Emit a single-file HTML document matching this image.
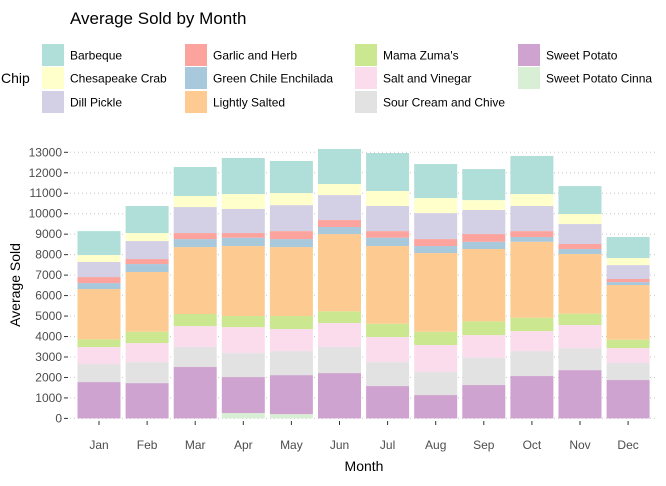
<!DOCTYPE html>
<html><head><meta charset="utf-8"><style>
body{margin:0;background:#fff;font-family:"Liberation Sans",Arial,sans-serif;}
svg text{font-family:"Liberation Sans",Arial,sans-serif;}
</style></head><body>
<svg id="chart" width="666" height="481">
<text x="70" y="24" font-size="17" fill="#000">Average Sold by Month</text>
<text x="1" y="83" font-size="14" fill="#000">Chip</text>
<g id="legend"></g>
<g id="grid"></g>
<g id="bars"></g>
<g id="axes"></g>
<text x="0" y="0" transform="translate(20,285) rotate(-90)" text-anchor="middle" font-size="14" fill="#000">Average Sold</text>
<text x="364" y="471" text-anchor="middle" font-size="14" fill="#000">Month</text>
</svg>
<script>
const months = ["Jan","Feb","Mar","Apr","May","Jun","Jul","Aug","Sep","Oct","Nov","Dec"];
const seriesNames = ["Barbeque","Chesapeake Crab","Dill Pickle","Garlic and Herb","Green Chile Enchilada","Lightly Salted","Mama Zuma's","Salt and Vinegar","Sour Cream and Chive","Sweet Potato","Sweet Potato Cinna"];
const barbeque = [1170,1320,1415,1760,1565,1710,1855,1660,1515,1860,1365,1025];
const chesapeake = [340,390,540,730,590,540,735,735,485,585,490,345];
const dillPickle = [735,880,1270,1175,1270,1220,1225,1270,1175,1225,975,680];
const garlicHerb = [295,245,295,225,390,340,320,340,375,290,245,150];
const greenChile = [290,390,390,410,390,345,410,340,355,230,245,145];
const lightlySalted = [2460,2915,3270,3420,3370,3775,3795,3845,3535,3710,2915,2670];
const mamaZuma = [375,555,590,540,635,570,650,650,670,655,555,410];
const saltVinegar = [830,930,1025,1270,1075,1175,1225,1320,1105,975,1125,730];
const sourCream = [880,1025,975,1170,1175,1270,1170,1125,1335,1220,1075,830];
const sweetPotato = [1775,1725,2510,1760,1905,2215,1580,1140,1630,2070,2360,1875];
const sweetPotatoCinna = [0,0,0,260,210,0,0,0,0,0,0,0];
const yTicks = [0,1000,2000,3000,4000,5000,6000,7000,8000,9000,10000,11000,12000,13000];

const seriesData = [barbeque,chesapeake,dillPickle,garlicHerb,greenChile,lightlySalted,mamaZuma,saltVinegar,sourCream,sweetPotato,sweetPotatoCinna];
const colors = ["#b0ded8","#ffffcc","#d3cfe4","#fba39c","#a8c8dc","#fdcb91","#cbe790","#fbdced","#e2e2e2","#cfa3cf","#d9efd5"];
const NS="http://www.w3.org/2000/svg";
const y0=418.4, pxPer=266.1/13000;
const yScale=v=>y0-v*pxPer;
const xCenter=i=>99+i*48.1;
const bw=43;
function mk(tag,attrs,parent){const e=document.createElementNS(NS,tag);for(const k in attrs)e.setAttribute(k,attrs[k]);parent.appendChild(e);return e;}
const grid=document.getElementById('grid'),axes=document.getElementById('axes'),bars=document.getElementById('bars'),legend=document.getElementById('legend');
yTicks.forEach(t=>{
  const y=yScale(t);
  const g=mk('line',{x1:70,x2:656,y1:y,y2:y,stroke:"#c8c8c8","stroke-dasharray":"1,3","stroke-width":1},grid);
  
  
  const tk=mk('line',{x1:64,x2:68,y1:y,y2:y,stroke:"#333","stroke-width":1},axes);
  
  
  const tx=mk('text',{x:62,y:y+4,"text-anchor":"end","font-size":12,fill:"#4d4d4d"},axes);
  tx.textContent=t;
  
  
});
months.forEach((m,i)=>{
  let cum=0;
  for(let s=seriesData.length-1;s>=0;s--){
    const v=seriesData[s][i];
    const r=mk('rect',{x:xCenter(i)-bw/2,y:yScale(cum+v),width:bw,height:v*pxPer,fill:colors[s]},bars);
    
    
    cum+=v;
  }
  const tk=mk('line',{x1:xCenter(i),x2:xCenter(i),y1:421,y2:425,stroke:"#333"},axes);
  
  
  const tx=mk('text',{x:xCenter(i),y:449,"text-anchor":"middle","font-size":12,fill:"#4d4d4d"},axes);
  tx.textContent=m;
  
  
});
const colX=[42,185,355,518], rowY=[44,67,91];
seriesNames.forEach((n,k)=>{
  const c=Math.floor(k/3), r=k%3;
  const g=mk('g',{},legend);
  
  
  mk('rect',{x:colX[c],y:rowY[r],width:22,height:22,fill:colors[k]},g);
  const t=mk('text',{x:colX[c]+28,y:rowY[r]+15.5,"font-size":12,fill:"#000"},g);
  t.textContent=n;
});
</script>
</body></html>
